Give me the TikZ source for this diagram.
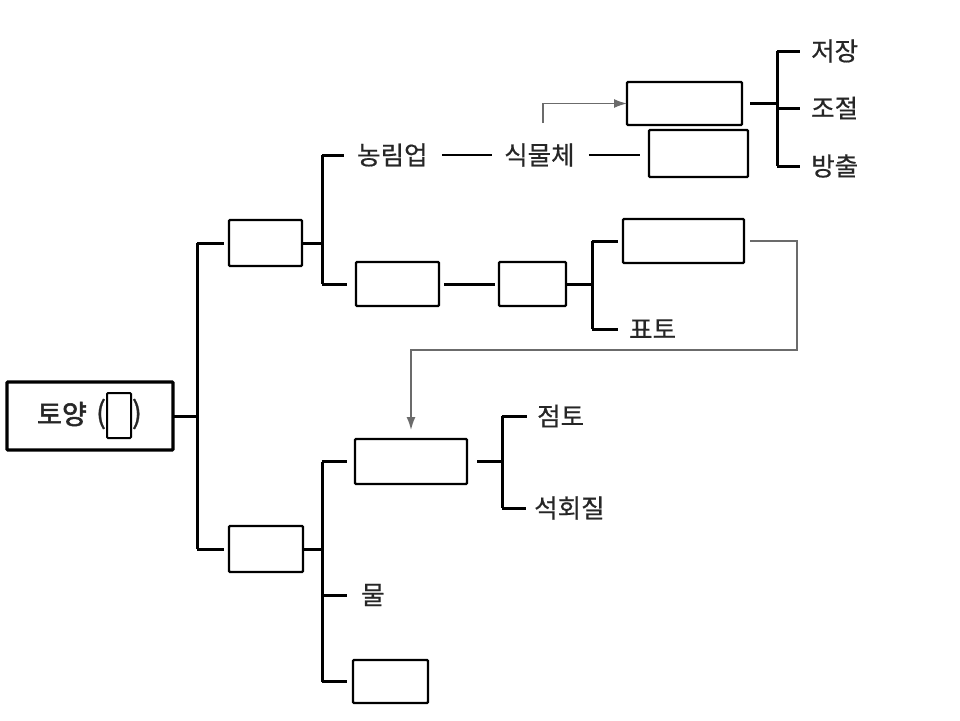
\documentclass[tikz,border=0pt]{standalone}
\usepackage{fontspec}
\newfontfamily\kr{Noto Sans CJK KR}[FakeBold=0.6]
\newfontfamily\krb{Noto Sans CJK KR}[FakeBold=2]
\usetikzlibrary{arrows.meta}
\newcommand\lblfont{\kr\fontsize{25.5}{27}\selectfont}
\tikzset{
  box/.style={draw, line width=2.4pt, inner sep=0pt, outer sep=0pt, rounded corners=1pt, fill=white},
  conn/.style={line width=3pt},
  glink/.style={draw=black!58, line width=1.5pt},
  lbl/.style={font=\lblfont, inner sep=0pt, anchor=west, text=black!85},
  gtip/.style={-{Latex[length=13pt,width=9pt]}}
}
\begin{document}
\begin{tikzpicture}[x=1pt,y=-1pt]
\useasboundingbox (0,0) rectangle (960,720);
% spine x coordinates
\coordinate (x0) at (197,0);
\coordinate (x1) at (322,0);
\coordinate (x2) at (777,0);
\coordinate (x3) at (592,0);
\coordinate (x4) at (502,0);
\coordinate (fbx) at (797,350);
\coordinate (g0) at (543,123);

% boxes
\node[box, line width=3.4pt, minimum width=166pt, minimum height=68pt] (root) at (90,416) {};
\node[font=\krb\fontsize{27}{28}\selectfont, inner sep=0pt, text=black!85] (toyang) at (62,414) {토양};
\node[font=\kr\fontsize{30}{30}\selectfont, inner sep=0pt, text=black!85] (lp) at (101,414) {(};
\node[font=\kr\fontsize{30}{30}\selectfont, inner sep=0pt, text=black!85] (rp) at (137,414) {)};
\node[box, line width=2pt, minimum width=24pt, minimum height=45pt] (inner) at (119,415.5) {};

\node[box, minimum width=73pt, minimum height=46pt] (A) at (265.5,243) {};
\node[box, minimum width=83pt, minimum height=44pt] (B1) at (397.5,284) {};
\node[box, minimum width=67pt, minimum height=44pt] (B2) at (532.5,284) {};
\node[box, minimum width=121pt, minimum height=44pt] (B3) at (683.5,241) {};
\node[box, minimum width=115pt, minimum height=43pt] (C1) at (684.5,103.5) {};
\node[box, minimum width=99pt, minimum height=47pt] (C2) at (698.5,153.5) {};
\node[box, minimum width=112pt, minimum height=45pt] (D1) at (411,461.5) {};
\node[box, minimum width=74pt, minimum height=46pt] (E) at (266,549) {};
\node[box, minimum width=75pt, minimum height=43pt] (F) at (390.5,681.5) {};

% labels
\node[lbl] (nong) at (357,155) {농림업};
\node[lbl] (sik) at (504,155) {식물체};
\node[lbl] (jeo) at (811,51) {저장};
\node[lbl] (jo) at (811,108) {조절};
\node[lbl] (bang) at (811,166) {방출};
\node[lbl] (pyo) at (629,329) {표토};
\node[lbl] (jeom) at (537,416) {점토};
\node[lbl] (seok) at (534,508) {석회질};
\node[lbl] (mul) at (361,595) {물};

% main spine
\draw[conn] (root.east) -- (root.east -| x0);
\draw[conn] (x0 |- A.west) -- (x0 |- E.west);
\draw[conn, shorten >=5pt] (x0 |- A.west) -- (A.west);
\draw[conn, shorten >=5pt] (x0 |- E.west) -- (E.west);

% upper branch
\draw[conn] (A.east) -- (A.east -| x1);
\draw[conn] (x1 |- nong.west) -- (x1 |- B1.west);
\draw[conn, shorten >=13pt] (x1 |- nong.west) -- (nong.west);
\draw[conn, shorten >=9pt] (x1 |- B1.west) -- (B1.west);
\draw[line width=2.4pt, shorten <=14pt, shorten >=12pt] (nong.east) -- (sik.west);
\draw[line width=2.4pt, shorten <=14pt, shorten >=9pt] (sik.east) -- (sik.east -| C2.west);
\draw[glink, gtip] (g0) |- (C1.west);

\draw[conn, shorten <=8pt] (C1.east) -- (C1.east -| x2);
\draw[conn] (x2 |- jeo.west) -- (x2 |- bang.west);
\draw[conn, shorten >=11pt] (x2 |- jeo.west) -- (jeo.west);
\draw[conn, shorten >=11pt] (x2 |- jo.west) -- (jo.west);
\draw[conn, shorten >=11pt] (x2 |- bang.west) -- (bang.west);

\draw[conn, shorten <=5pt, shorten >=4pt] (B1.east) -- (B2.west);
\draw[conn] (B2.east) -- (B2.east -| x3);
\draw[conn] (x3 |- B3.west) -- (x3 |- pyo.west);
\draw[conn, shorten >=5pt] (x3 |- B3.west) -- (B3.west);
\draw[conn, shorten >=11pt] (x3 |- pyo.west) -- (pyo.west);

% feedback
\draw[glink, gtip, shorten <=6pt, shorten >=9pt] (B3.east) -| (fbx) -| (D1.north);

% lower branch
\draw[conn] (E.east) -- (E.east -| x1);
\draw[conn] (x1 |- D1.west) -- (x1 |- F.west);
\draw[conn, shorten >=8pt] (x1 |- D1.west) -- (D1.west);
\draw[conn, shorten >=14pt] (x1 |- mul.west) -- (mul.west);
\draw[conn, shorten >=6pt] (x1 |- F.west) -- (F.west);

\draw[conn, shorten <=10pt] (D1.east) -- (D1.east -| x4);
\draw[conn] (x4 |- jeom.west) -- (x4 |- seok.west);
\draw[conn, shorten >=10pt] (x4 |- jeom.west) -- (jeom.west);
\draw[conn, shorten >=8pt] (x4 |- seok.west) -- (seok.west);
\end{tikzpicture}
\end{document}
